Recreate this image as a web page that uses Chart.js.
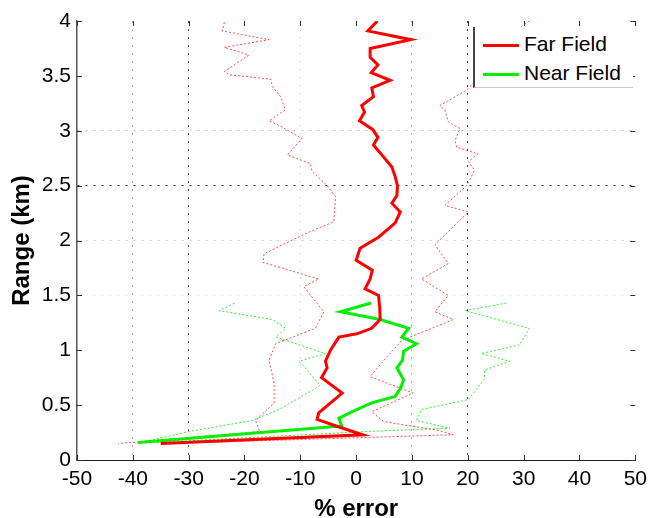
<!DOCTYPE html>
<html>
<head>
<meta charset="utf-8">
<script src="https://cdn.jsdelivr.net/npm/chart.js@4.4.0/dist/chart.umd.min.js"></script>
<style>
  body { margin: 0; background: #fff; }
  #wrap { position: relative; width: 654px; height: 518px; }
  #legend {
    position: absolute; left: 473px; top: 27px; width: 160px; height: 61px;
    background: #fff; border-left: 2px solid #444; border-bottom: 1px solid #ccc;
    box-sizing: border-box; font-family: "Liberation Sans", Arial, sans-serif; font-size: 21px; color: #000;
  }
  .item { position: absolute; left: 8px; height: 24px; line-height: 24px; white-space: nowrap; }
  .item span.sw { display: inline-block; width: 36px; height: 3px; vertical-align: middle; margin-right: 5px; }
</style>
</head>
<body>
<div id="wrap">
  <canvas id="chart" width="654" height="518"></canvas>
  <div id="legend">
    <div class="item" style="top:5px"><span class="sw" style="background:#ff0000"></span>Far Field</div>
    <div class="item" style="top:34px"><span class="sw" style="background:#00f000"></span>Near Field</div>
  </div>
</div>
<script>
// Far field mean error (%) vs range (km)
const farRange = [4.00, 3.91, 3.83, 3.75, 3.67, 3.60, 3.53, 3.46, 3.39, 3.31, 3.23, 3.17, 3.09, 3.01, 2.94, 2.87, 2.78, 2.67, 2.58, 2.50, 2.41, 2.34, 2.26, 2.16, 2.03, 1.93, 1.82, 1.73, 1.65, 1.56, 1.50, 1.40, 1.28, 1.20, 1.15, 1.12, 1.00, 0.90, 0.84, 0.75, 0.61, 0.43, 0.37, 0.31, 0.23, 0.15];
const farErr   = [3.8, 2.1, 9.8, 2.5, 2.5, 3.9, 2.7, 6.1, 2.8, 3.1, 1.0, 1.5, 0.6, 3.0, 3.9, 3.1, 4.6, 6.4, 7.0, 7.4, 7.3, 6.4, 7.9, 7.0, 4.0, 0.7, 0.0, 2.9, 2.5, 1.6, 4.0, 4.2, 4.3, 2.8, 0.1, -3.1, -4.6, -5.5, -5.2, -6.2, -2.5, -6.7, -7.0, -3.6, 1.2, -35.0];

// Far field lower / upper spread
const farLoRange = [3.99, 3.91, 3.83, 3.76, 3.69, 3.54, 3.51, 3.47, 3.40, 3.31, 3.19, 3.09, 3.04, 2.93, 2.78, 2.70, 2.63, 2.50, 2.40, 2.17, 2.09, 1.88, 1.80, 1.65, 1.58, 1.35, 1.20, 1.06, 0.91, 0.70, 0.52, 0.36, 0.26, 0.15];
const farLoErr   = [-23.6, -24.0, -15.6, -23.6, -19.2, -23.6, -22.7, -15.3, -15.0, -13.5, -12.7, -15.6, -13.5, -9.7, -12.3, -8.2, -7.9, -5.2, -3.7, -4.0, -7.9, -16.5, -16.7, -6.7, -9.4, -5.8, -7.3, -14.4, -15.6, -14.7, -14.7, -18.0, -17.3, -42.6];
const farHiRange = [4.00, 3.96, 3.70, 3.50, 3.38, 3.23, 3.19, 3.08, 3.02, 2.91, 2.85, 2.79, 2.72, 2.64, 2.50, 2.32, 2.26, 2.14, 1.96, 1.79, 1.65, 1.50, 1.35, 1.28, 1.09, 0.94, 0.76, 0.61, 0.44, 0.35, 0.27, 0.23, 0.16];
const farHiErr   = [31.0, 29.9, 24.0, 22.0, 20.1, 15.0, 15.9, 16.5, 18.6, 17.7, 18.0, 21.8, 20.1, 21.2, 19.8, 15.9, 20.1, 17.7, 14.1, 16.5, 11.7, 16.5, 14.1, 17.4, 8.2, 5.5, 2.5, 10.2, 2.8, 4.9, 14.7, 17.4, -27.0];

// Near field mean error (%) vs range (km)
const nearRange = [1.43, 1.35, 1.28, 1.20, 1.12, 1.06, 0.99, 0.91, 0.84, 0.73, 0.66, 0.58, 0.52, 0.45, 0.38, 0.31, 0.16];
const nearErr   = [2.7, -2.8, 4.3, 9.4, 8.2, 10.8, 8.5, 8.3, 7.3, 8.5, 8.0, 7.0, 2.8, -0.3, -3.1, -2.6, -39.0];

// Near field lower / upper spread
const nearLoRange = [1.43, 1.36, 1.28, 1.20, 1.12, 0.97, 0.90, 0.68, 0.46, 0.36, 0.26, 0.15];
const nearLoErr   = [-21.8, -24.5, -15.0, -12.6, -14.4, -5.5, -10.2, -6.4, -13.8, -18.6, -29.9, -39.4];
const nearHiRange = [1.43, 1.36, 1.20, 1.05, 0.97, 0.90, 0.82, 0.74, 0.55, 0.46, 0.36, 0.29, 0.26, 0.16];
const nearHiErr   = [26.9, 19.5, 31.0, 29.3, 22.4, 27.5, 23.0, 23.0, 20.1, 11.7, 10.8, 16.8, 2.0, -36.0];

const xTicks = [-50, -40, -30, -20, -10, 0, 10, 20, 30, 40, 50];
const yTicks = [0, 0.5, 1, 1.5, 2, 2.5, 3, 3.5, 4];

const toPts = (r, e) => r.map((y, i) => ({ x: e[i], y: y }));

// grid look copied from the figure: only some lines show
const xGridColor = { '-40': '#b0b0b0', '-30': '#555555', '-10': '#dddddd', '10': '#c0c0c0', '20': '#444444' };
const yGridColor = { '3': '#c0c0c0', '2.5': '#333333', '2': '#d0d0d0', '1.5': '#eeeeee' };

const FONT = '"Liberation Sans", Arial, sans-serif';

// inner tick marks on all four sides
const innerTicks = {
    id: 'innerTicks',
    afterDatasetsDraw(chart) {
        const { ctx, chartArea: a, scales: { x, y } } = chart;
        ctx.save();
        ctx.strokeStyle = '#333';
        ctx.lineWidth = 1;
        ctx.beginPath();
        xTicks.forEach(v => {
            const px = Math.round(x.getPixelForValue(v)) + 0.5;
            ctx.moveTo(px, a.bottom); ctx.lineTo(px, a.bottom - 5);
            ctx.moveTo(px, a.top); ctx.lineTo(px, a.top + 5);
        });
        yTicks.forEach(v => {
            const py = Math.round(y.getPixelForValue(v)) + 0.5;
            ctx.moveTo(a.left, py); ctx.lineTo(a.left + 5, py);
            ctx.moveTo(a.right, py); ctx.lineTo(a.right - 5, py);
        });
        ctx.stroke();
        ctx.restore();
    }
};

function dotted(label, pts, color, ord) {
    return { label, data: pts, borderColor: color, borderWidth: 1, borderDash: [2, 2],
             pointRadius: 0, showLine: true, fill: false, tension: 0, order: ord };
}

new Chart(document.getElementById('chart'), {
    type: 'scatter',
    data: {
        datasets: [
            { label: 'Far Field', data: toPts(farRange, farErr), borderColor: '#ff0000', borderWidth: 3,
              pointRadius: 0, showLine: true, tension: 0, order: 1 },
            { label: 'Near Field', data: toPts(nearRange, nearErr), borderColor: '#00f000', borderWidth: 3,
              pointRadius: 0, showLine: true, tension: 0, order: 2 },
            dotted('Far lo', toPts(farLoRange, farLoErr), 'rgba(255,0,0,0.7)', 4),
            dotted('Far hi', toPts(farHiRange, farHiErr), 'rgba(255,0,0,0.7)', 4),
            dotted('Near lo', toPts(nearLoRange, nearLoErr), 'rgba(0,230,0,0.8)', 5),
            dotted('Near hi', toPts(nearHiRange, nearHiErr), 'rgba(0,230,0,0.8)', 5)
        ]
    },
    options: {
        responsive: false,
        animation: false,
        layout: { padding: { left: 8, top: 21, right: 13, bottom: 0 } },
        plugins: { legend: { display: false }, tooltip: { enabled: false } },
        scales: {
            x: {
                type: 'linear', min: -50, max: 50,
                afterBuildTicks: s => { s.ticks = xTicks.map(v => ({ value: v })); },
                afterFit: s => { s.height = 58; },
                ticks: { color: '#000', font: { family: FONT, size: 21 }, padding: 7, maxRotation: 0,
                         callback: v => String(v) },
                grid: { drawTicks: false, lineWidth: 1,
                        color: c => (c.tick && xGridColor[String(c.tick.value)]) || 'rgba(0,0,0,0)' },
                border: { display: true, color: '#222', width: 1, dash: [2, 6] },
                title: { display: true, text: '% error', color: '#000',
                         font: { family: FONT, size: 24, weight: 'bold', lineHeight: 1 },
                         padding: { top: 0, bottom: -3 } }
            },
            y: {
                type: 'linear', min: 0, max: 4,
                afterBuildTicks: s => { s.ticks = yTicks.map(v => ({ value: v })); },
                afterFit: s => { s.width = 69; },
                ticks: { color: '#000', font: { family: FONT, size: 21 }, padding: 6,
                         callback: v => String(v) },
                grid: { drawTicks: false, lineWidth: 1,
                        color: c => (c.tick && yGridColor[String(c.tick.value)]) || 'rgba(0,0,0,0)' },
                border: { display: true, color: '#555', width: 1.5, dash: [2, 6] },
                title: { display: true, text: 'Range (km)', color: '#000',
                         font: { family: FONT, size: 24, weight: 'bold', lineHeight: 1 },
                         padding: { top: 2, bottom: 0 } }
            }
        }
    },
    plugins: [innerTicks]
});
</script>
</body>
</html>
